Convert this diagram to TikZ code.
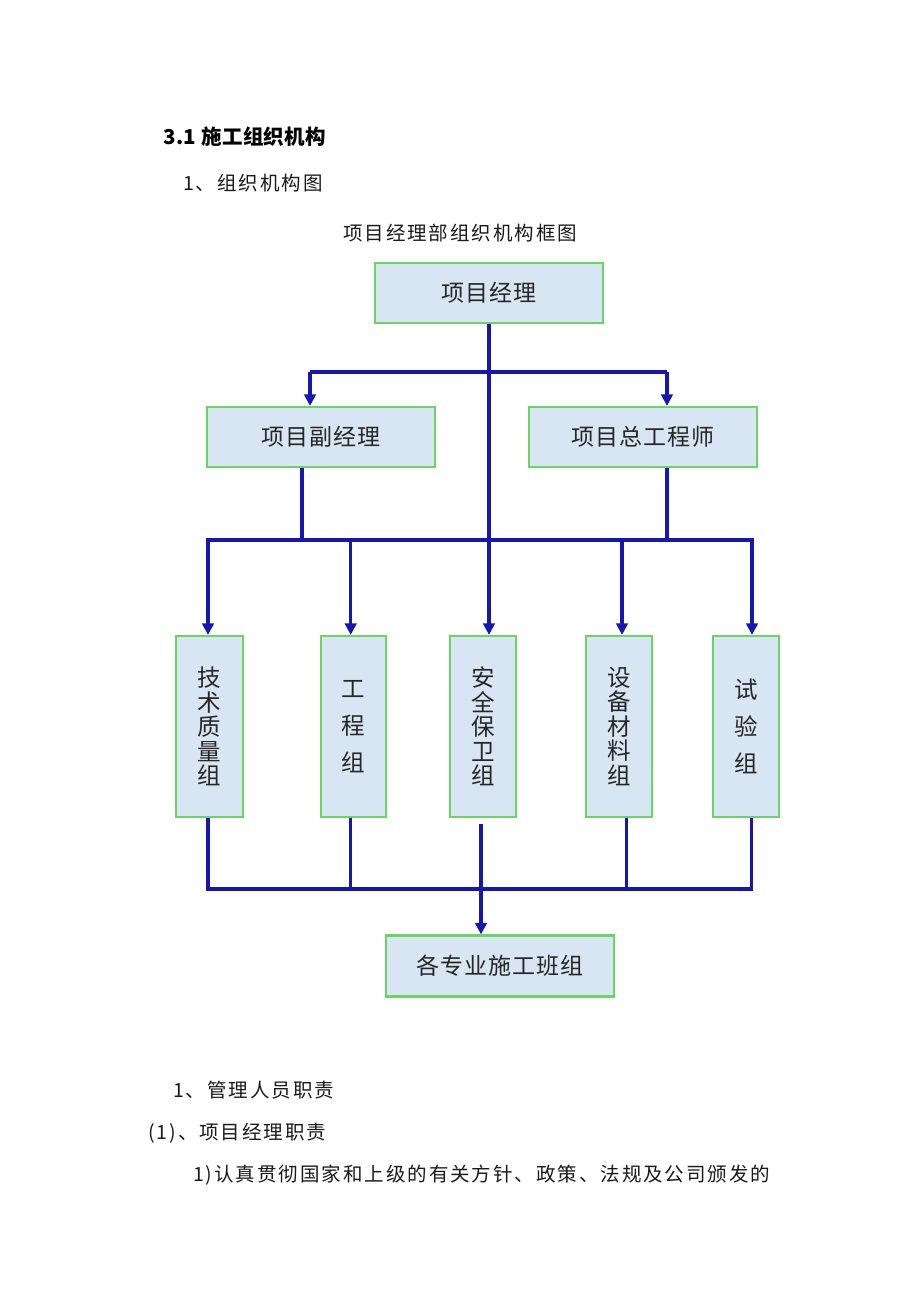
\documentclass[tikz,border=0pt]{standalone}
\usepackage{fontspec}
\setmainfont{Noto Sans CJK SC}
\newfontfamily\cjkbody[LetterSpace=10]{Noto Sans CJK SC}
\newfontfamily\cjkbox[LetterSpace=4]{Noto Sans CJK SC}
\newfontfamily\cjkvert{Noto Sans CJK SC}
\newfontfamily\cjktitle[LetterSpace=2]{Noto Sans CJK SC}
\usetikzlibrary{arrows.meta}
\definecolor{linkblue}{RGB}{22,22,178}
\definecolor{boxgreen}{RGB}{104,214,96}
\definecolor{boxfill}{RGB}{216,230,243}
\tikzset{
  orgbox/.style={draw=boxgreen, line width=2.2pt, fill=boxfill, inner sep=0pt,
    font=\cjkbox\fontsize{23}{26}\selectfont, text=black!85},
  vertbox/.style={orgbox, align=center, font=\cjkvert\fontsize{23.5}{24.5}\selectfont},
  vertboxwide/.style={orgbox, align=center, font=\cjkvert\fontsize{23.5}{37}\selectfont},
  ln/.style={draw=linkblue, line width=3.1pt},
  arr/.style={ln, -{Triangle[length=11.5pt,width=11.5pt]}},
  bodytext/.style={anchor=west, inner sep=0pt, font=\cjkbody\fontsize{19.5}{22}\selectfont, text=black!90},
}
\begin{document}
\begin{tikzpicture}[x=1pt,y=-1pt]
\path[use as bounding box, fill=white] (0,0) rectangle (920,1302);

% texts
\node[anchor=west, inner sep=0pt, font=\cjktitle\bfseries\fontsize{20.5}{24}\selectfont] (title) at (163,137) {3.1 施工组织机构};
\node[bodytext] (sub) at (183,183) {1、组织机构图};
\node[bodytext] (cap) at (343,233) {项目经理部组织机构框图};

% boxes
\node[orgbox, minimum width=228pt, minimum height=60pt] (pm) at (489,293) {项目经理};
\node[orgbox, minimum width=228pt, minimum height=60pt] (vpm) at (321,437) {项目副经理};
\node[orgbox, minimum width=228pt, minimum height=60pt] (ce) at (643,437) {项目总工程师};

\node[vertbox, minimum width=67pt, minimum height=181pt] (g1) at (209.5,726.5) {技\\术\\质\\量\\组};
\node[vertboxwide, minimum width=65pt, minimum height=181pt] (g2) at (353.5,726.5) {工\\程\\组};
\node[vertbox, minimum width=66pt, minimum height=181pt] (g3) at (483,726.5) {安\\全\\保\\卫\\组};
\node[vertbox, minimum width=66pt, minimum height=181pt] (g4) at (619,726.5) {设\\备\\材\\料\\组};
\node[vertboxwide, minimum width=66pt, minimum height=181pt] (g5) at (746,726.5) {试\\验\\组};

\node[orgbox, minimum width=228pt, minimum height=61pt] (bt) at (500,966) {各专业施工班组};

% junction coordinates
\coordinate (a1) at (310,372);
\coordinate (a2) at (667,372);
\coordinate (b1) at (302,540);
\coordinate (b2) at (667,540);
\coordinate (c1) at (208,540);
\coordinate (c2) at (350.7,540);
\coordinate (c4) at (622,540);
\coordinate (c5) at (752,540);
\coordinate (d1) at (208,889);
\coordinate (d2) at (350.7,889);
\coordinate (d3) at (481,889);
\coordinate (d4) at (626.5,889);
\coordinate (d5) at (751.5,889);
\coordinate (e3) at (481,824);

% top connectors
\draw[arr] (pm.south) -- (pm.south |- g3.north);
\draw[ln] (a1) -- (a2);
\draw[arr] (a1) -- (a1 |- vpm.north);
\draw[arr] (a2) -- (a2 |- ce.north);

% middle connectors
\draw[ln] (b1 |- vpm.south) -- (b1);
\draw[ln] (b2 |- ce.south) -- (b2);
\draw[ln, line cap=rect] (c1) -- (c5);
\draw[arr] (c1) -- (c1 |- g1.north);
\draw[arr] (c2) -- (c2 |- g2.north);
\draw[arr] (c4) -- (c4 |- g4.north);
\draw[arr] (c5) -- (c5 |- g5.north);

% bottom connectors
\draw[ln] (d1 |- g1.south) -- (d1);
\draw[ln] (d2 |- g2.south) -- (d2);
\draw[ln] (d4 |- g4.south) -- (d4);
\draw[ln] (d5 |- g5.south) -- (d5);
\draw[ln, line cap=rect] (d1) -- (d5);
\draw[ln] (e3) -- (d3);
\draw[arr] (d3) -- (d3 |- bt.north);

% lower text
\node[bodytext] (t1) at (173,1090) {1、管理人员职责};
\node[bodytext] (t2) at (148,1133) {(1)、项目经理职责};
\node[bodytext] (t3) at (193,1175) {1)认真贯彻国家和上级的有关方针、政策、法规及公司颁发的};
\end{tikzpicture}
\end{document}
